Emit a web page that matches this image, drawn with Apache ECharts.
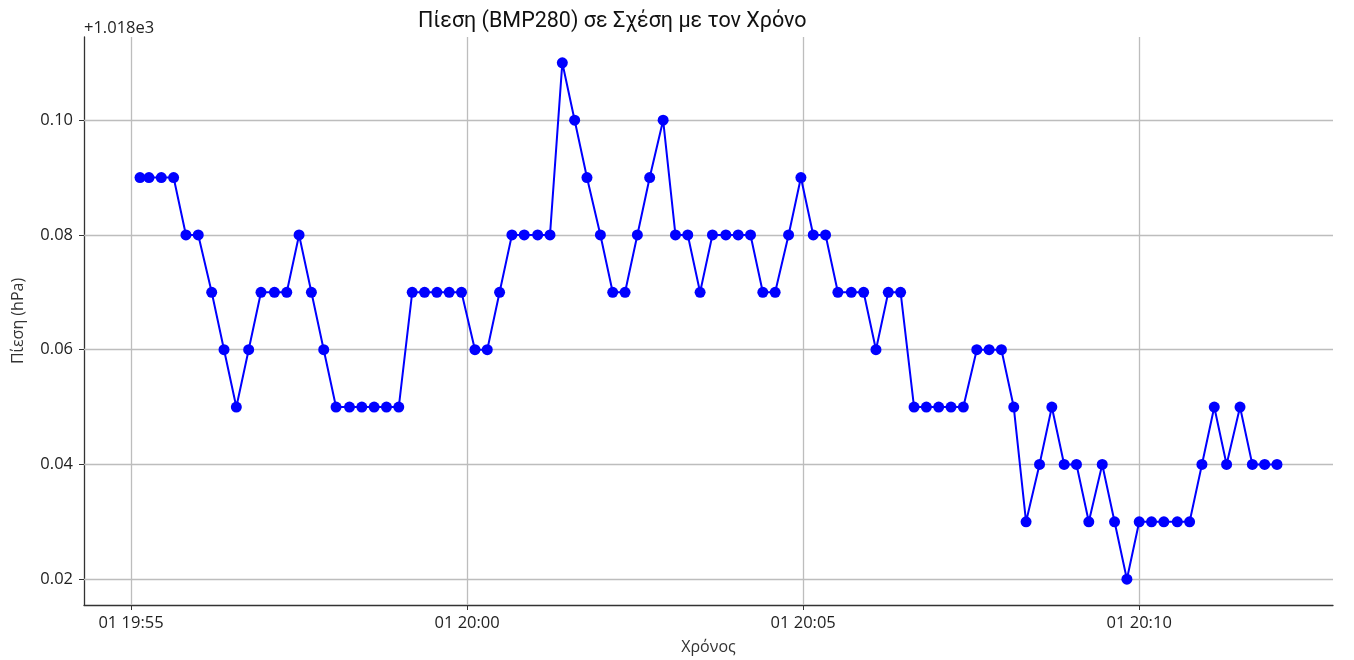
<!DOCTYPE html>
<html>
<head>
<meta charset="utf-8">
<script src="https://cdn.jsdelivr.net/npm/echarts@6/dist/echarts.min.js"></script>
<style>
html,body{margin:0;padding:0;background:#fff;}
#chart{width:1354px;height:660px;}
</style>
</head>
<body>
<div id="chart"></div>
<script>
// ---- data ----
const times = [
"2024-06-01T19:55:08","2024-06-01T19:55:16","2024-06-01T19:55:27","2024-06-01T19:55:38","2024-06-01T19:55:49",
"2024-06-01T19:56:00","2024-06-01T19:56:12","2024-06-01T19:56:23","2024-06-01T19:56:34","2024-06-01T19:56:45",
"2024-06-01T19:56:56","2024-06-01T19:57:08","2024-06-01T19:57:19","2024-06-01T19:57:30","2024-06-01T19:57:41",
"2024-06-01T19:57:52","2024-06-01T19:58:03","2024-06-01T19:58:15","2024-06-01T19:58:26","2024-06-01T19:58:37",
"2024-06-01T19:58:48","2024-06-01T19:58:59","2024-06-01T19:59:11","2024-06-01T19:59:22","2024-06-01T19:59:33",
"2024-06-01T19:59:44","2024-06-01T19:59:55","2024-06-01T20:00:07","2024-06-01T20:00:18","2024-06-01T20:00:29",
"2024-06-01T20:00:40","2024-06-01T20:00:51","2024-06-01T20:01:03","2024-06-01T20:01:14","2024-06-01T20:01:25",
"2024-06-01T20:01:36","2024-06-01T20:01:47","2024-06-01T20:01:59","2024-06-01T20:02:10","2024-06-01T20:02:21",
"2024-06-01T20:02:32","2024-06-01T20:02:43","2024-06-01T20:02:55","2024-06-01T20:03:06","2024-06-01T20:03:17",
"2024-06-01T20:03:28","2024-06-01T20:03:39","2024-06-01T20:03:51","2024-06-01T20:04:02","2024-06-01T20:04:13",
"2024-06-01T20:04:24","2024-06-01T20:04:35","2024-06-01T20:04:47","2024-06-01T20:04:58","2024-06-01T20:05:09",
"2024-06-01T20:05:20","2024-06-01T20:05:31","2024-06-01T20:05:43","2024-06-01T20:05:54","2024-06-01T20:06:05",
"2024-06-01T20:06:16","2024-06-01T20:06:27","2024-06-01T20:06:39","2024-06-01T20:06:50","2024-06-01T20:07:01",
"2024-06-01T20:07:12","2024-06-01T20:07:23","2024-06-01T20:07:35","2024-06-01T20:07:46","2024-06-01T20:07:57",
"2024-06-01T20:08:08","2024-06-01T20:08:19","2024-06-01T20:08:31","2024-06-01T20:08:42","2024-06-01T20:08:53",
"2024-06-01T20:09:04","2024-06-01T20:09:15","2024-06-01T20:09:27","2024-06-01T20:09:38","2024-06-01T20:09:49",
"2024-06-01T20:10:00","2024-06-01T20:10:11","2024-06-01T20:10:22","2024-06-01T20:10:34","2024-06-01T20:10:45",
"2024-06-01T20:10:56","2024-06-01T20:11:07","2024-06-01T20:11:18","2024-06-01T20:11:30","2024-06-01T20:11:41",
"2024-06-01T20:11:52","2024-06-01T20:12:03"
];
const pressure = [
1018.09,1018.09,1018.09,1018.09,1018.08,1018.08,1018.07,1018.06,1018.05,1018.06,
1018.07,1018.07,1018.07,1018.08,1018.07,1018.06,1018.05,1018.05,1018.05,1018.05,
1018.05,1018.05,1018.07,1018.07,1018.07,1018.07,1018.07,1018.06,1018.06,1018.07,
1018.08,1018.08,1018.08,1018.08,1018.11,1018.10,1018.09,1018.08,1018.07,1018.07,
1018.08,1018.09,1018.10,1018.08,1018.08,1018.07,1018.08,1018.08,1018.08,1018.08,
1018.07,1018.07,1018.08,1018.09,1018.08,1018.08,1018.07,1018.07,1018.07,1018.06,
1018.07,1018.07,1018.05,1018.05,1018.05,1018.05,1018.05,1018.06,1018.06,1018.06,
1018.05,1018.03,1018.04,1018.05,1018.04,1018.04,1018.03,1018.04,1018.03,1018.02,
1018.03,1018.03,1018.03,1018.03,1018.03,1018.04,1018.05,1018.04,1018.05,1018.04,
1018.04,1018.04
];
const yOffset = 1018;
const yTicks = [1018.02, 1018.04, 1018.06, 1018.08, 1018.10];
const xTicks = ["2024-06-01T19:55:00","2024-06-01T20:00:00","2024-06-01T20:05:00","2024-06-01T20:10:00"];
const xRange = ["2024-06-01T19:54:18","2024-06-01T20:12:53"];
const yRange = [1018.0155, 1018.1145];
const titleText = "Πίεση (BMP280) σε Σχέση με τον Χρόνο";
const xLabel = "Χρόνος";
const yLabel = "Πίεση (hPa)";
const offsetText = "+1.018e3";

// ---- chart ----
const ts = s => new Date(s).getTime();
const pad = n => (n < 10 ? "0" : "") + n;
const TICKFONT = "'Open Sans', sans-serif";
const TITLEFONT = "Roboto, sans-serif";
const chart = echarts.init(document.getElementById('chart'), null, {renderer: 'canvas'});
const seriesData = times.map((t, i) => [ts(t), pressure[i]]);
const gridColor = '#bdbdbd';

chart.setOption({
  animation: false,
  backgroundColor: '#fff',
  grid: {left: 84, top: 37, width: 1249, height: 568, containLabel: false, outerBoundsMode: 'none'},
  xAxis: {
    type: 'value',
    min: ts(xRange[0]), max: ts(xRange[1]),
    name: xLabel, nameLocation: 'middle', nameGap: 34,
    nameTextStyle: {fontFamily: TICKFONT, fontSize: 16, color: '#333'},
    axisLine: {show: true, lineStyle: {color: '#333', width: 1.3}},
    axisTick: {show: true, length: 5, lineStyle: {color: '#333', width: 1}, customValues: xTicks.map(ts)},
    axisLabel: {
      customValues: xTicks.map(ts), margin: 10,
      fontFamily: TICKFONT, fontSize: 16.5, color: '#222',
      formatter: v => { const d = new Date(v); return pad(d.getDate()) + " " + pad(d.getHours()) + ":" + pad(d.getMinutes()); }
    },
    splitLine: {show: false}
  },
  yAxis: {
    type: 'value',
    min: yRange[0], max: yRange[1],
    name: yLabel, nameLocation: 'middle', nameGap: 58, nameRotate: 90,
    nameTextStyle: {fontFamily: TICKFONT, fontSize: 16, color: '#333'},
    axisLine: {show: true, lineStyle: {color: '#333', width: 1.3}},
    axisTick: {show: true, length: 5, lineStyle: {color: '#333', width: 1}, customValues: yTicks},
    axisLabel: {
      customValues: yTicks, margin: 11,
      fontFamily: TICKFONT, fontSize: 16.5, color: '#222',
      formatter: v => (v - yOffset).toFixed(2)
    },
    splitLine: {show: false}
  },
  graphic: [
    {type: 'text', x: 84, y: 28, style: {text: offsetText, font: "16.5px " + TICKFONT, fill: '#222', verticalAlign: 'middle', align: 'left'}},
    {type: 'text', x: 418, y: 22, style: {text: titleText, font: "21.5px " + TITLEFONT, fill: '#111', verticalAlign: 'middle', align: 'left'}}
  ],
  series: [
    {
      type: 'line',
      data: seriesData,
      symbol: 'circle', symbolSize: 11, showSymbol: true,
      itemStyle: {color: '#0000ff'},
      lineStyle: {color: '#0000ff', width: 2},
      z: 5,
      markLine: {
        silent: true, symbol: 'none', label: {show: false},
        lineStyle: {color: gridColor, width: 1.3, type: 'solid'},
        z: 1,
        data: yTicks.map(v => ({yAxis: v})).concat(xTicks.map(t => ({xAxis: ts(t)})))
      }
    }
  ]
});
</script>
</body>
</html>
